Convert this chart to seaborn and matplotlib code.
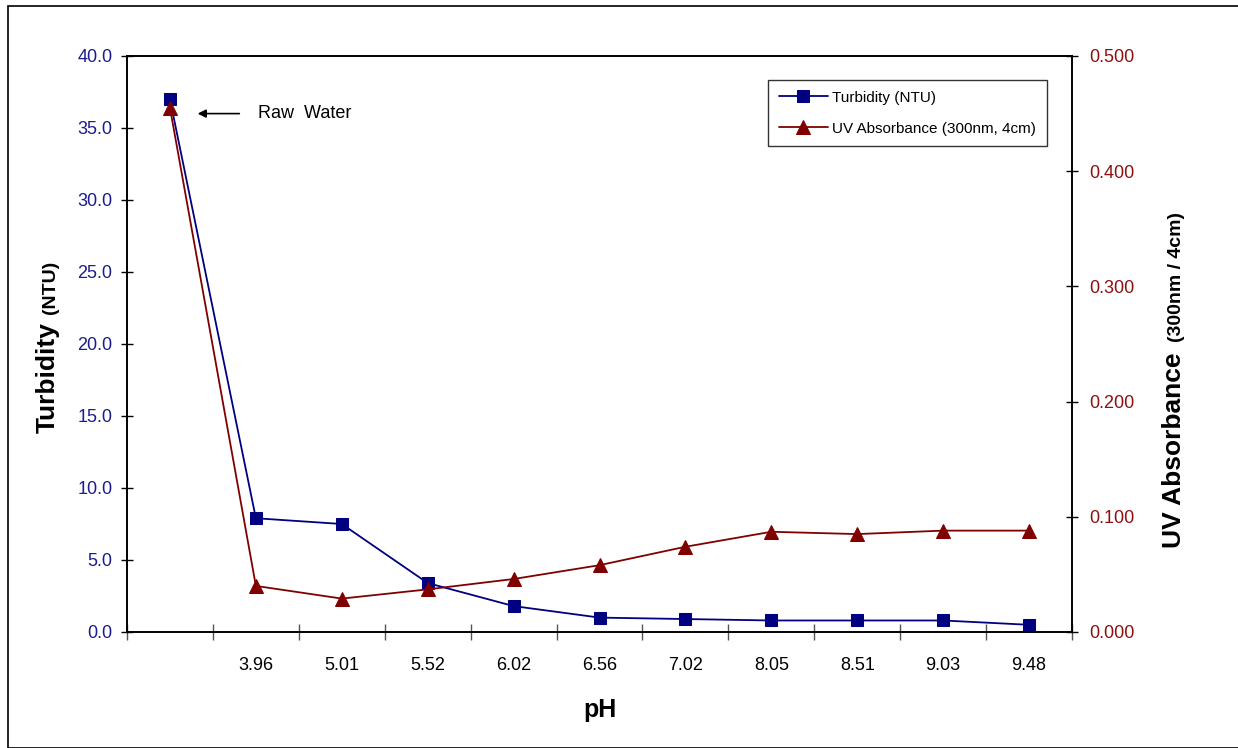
import numpy as np
import pandas as pd
import matplotlib
matplotlib.use("Agg")
import matplotlib.pyplot as plt
import seaborn as sns
from matplotlib.patches import Rectangle

# data
ph_labels = ["", "3.96", "5.01", "5.52", "6.02", "6.56", "7.02", "8.05", "8.51", "9.03", "9.48"]
turbidity = [37.0, 7.9, 7.5, 3.4, 1.8, 1.0, 0.9, 0.8, 0.8, 0.8, 0.5]
uv_abs = [0.455, 0.040, 0.029, 0.037, 0.046, 0.058, 0.074, 0.087, 0.085, 0.088, 0.088]

NAVY = "#000080"
MAROON = "#800000"
TICK_BLUE = "#1c1c8c"
TICK_RED = "#8c1010"

df = pd.DataFrame({"pos": np.arange(len(ph_labels)), "turb": turbidity, "uv": uv_abs})

sns.set_style("ticks")
plt.rcParams["font.family"] = ["Liberation Sans", "DejaVu Sans"]
plt.rcParams["text.color"] = "black"
plt.rcParams["axes.labelcolor"] = "black"
plt.rcParams["xtick.color"] = "black"
plt.rcParams["ytick.color"] = "black"

W, H = 1238, 748
fig = plt.figure(figsize=(W / 100, H / 100), dpi=100)
fig.subplots_adjust(left=127 / W, right=1072 / W, top=1 - 56 / H, bottom=1 - 632 / H)
ax = fig.add_subplot(111)
ax2 = ax.twinx()

sns.lineplot(data=df, x="pos", y="turb", ax=ax, color=NAVY, marker="s", markersize=8,
             markeredgecolor=NAVY, linewidth=1.3, label="Turbidity (NTU)", legend=False)
sns.lineplot(data=df, x="pos", y="uv", ax=ax2, color=MAROON, marker="^", markersize=10,
             markeredgecolor=MAROON, linewidth=1.3, label="UV Absorbance (300nm, 4cm)", legend=False)

n = len(ph_labels)
ax.set_xlim(-0.5, n - 0.5)
ax.set_ylim(0, 40)
ax2.set_ylim(0, 0.5)

# category boundaries carry the tick marks, labels sit in the middle
ax.set_xticks(np.arange(-0.5, n, 1.0))
ax.set_xticklabels([])
ax.set_xticks(np.arange(n), minor=True)
ax.set_xticklabels(ph_labels, minor=True, fontsize=13, color="black")
ax.tick_params(axis="x", which="major", direction="inout", length=12, color="#555555", width=1)
ax.tick_params(axis="x", which="minor", length=0, pad=18)

ax.set_yticks(np.arange(0, 40.1, 5))
ax.set_yticklabels([f"{v:.1f}" for v in np.arange(0, 40.1, 5)], fontsize=13, color=TICK_BLUE)
ax.tick_params(axis="y", direction="inout", length=9, width=1, pad=6, color="black")

ax2.set_yticks(np.arange(0, 0.501, 0.1))
ax2.set_yticklabels([f"{v:.3f}" for v in np.arange(0, 0.501, 0.1)], fontsize=13, color=TICK_RED)
ax2.tick_params(axis="y", direction="inout", length=9, width=1, pad=8, color="black")

for a in (ax, ax2):
    for s in a.spines.values():
        s.set_color("black")
        s.set_linewidth(1.2)
    a.set_ylabel("")
ax.set_xlabel("pH", fontsize=18, fontweight="bold", labelpad=17, color="black")

# axis titles with a smaller unit part
def vlabel(x_px, y_px, parts):
    y = y_px
    for txt, size, gap in parts:
        t = fig.text(x_px / W, 1 - y / H, txt, rotation=90, rotation_mode="anchor",
                     ha="left", va="baseline", fontsize=size, fontweight="bold", color="black")
        fig.canvas.draw()
        bb = t.get_window_extent()
        y -= bb.height + gap

vlabel(55, 433, [("Turbidity", 19, 8), ("(NTU)", 14, 0)])
vlabel(1181, 548, [("UV Absorbance", 19, 10), ("(300nm / 4cm)", 14, 0)])

# legend
h1, l1 = ax.get_legend_handles_labels()
h2, l2 = ax2.get_legend_handles_labels()
leg = ax2.legend(h1 + h2, l1 + l2, loc="upper left",
                 bbox_to_anchor=((768 - 127) / 945, (632 - 80) / 576),
                 fontsize=11, frameon=True, fancybox=False, edgecolor="black",
                 handlelength=3.2, borderpad=0.7, labelspacing=1.1, handletextpad=0.3,
                 borderaxespad=0)
leg.get_frame().set_linewidth(1.0)
for t in leg.get_texts():
    t.set_color("black")

# raw water annotation
ax.annotate("", xy=(0.29, 36.0), xytext=(0.84, 36.0),
            arrowprops=dict(arrowstyle="-|>", color="black", lw=1.2, mutation_scale=12))
ax.text(1.03, 36.0, "Raw  Water", fontsize=13, va="center", ha="left", color="black")

# outer frame of the chart area
fig.patches.append(Rectangle((8 / W, 0), 1 - 8 / W + 0.01, 1 - 6 / H, transform=fig.transFigure,
                             fill=False, edgecolor="black", linewidth=1.2))

fig.savefig("out.png", dpi=100)
